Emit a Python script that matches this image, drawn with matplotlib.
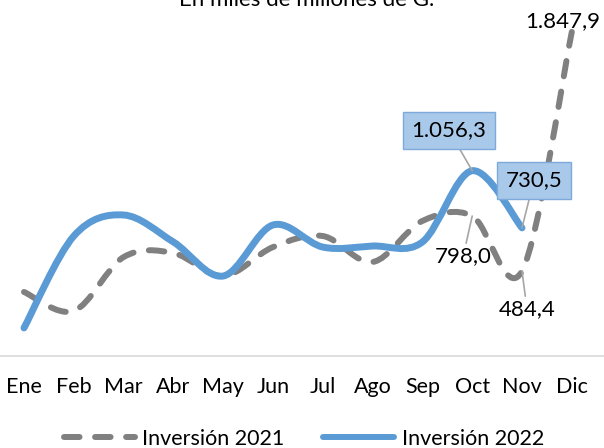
import numpy as np
import matplotlib
matplotlib.use('Agg')
from matplotlib import pyplot as plt
from matplotlib.path import Path
from matplotlib.patches import PathPatch
from matplotlib.lines import Line2D

######################
# Data

meses = ['Ene', 'Feb', 'Mar', 'Abr', 'May', 'Jun', 'Jul', 'Ago', 'Sep', 'Oct', 'Nov', 'Dic']
inv_2021 = [365, 257, 564, 587, 456, 621, 684, 536, 770, 798.0, 484.4, 1847.9]
inv_2022 = [160, 684, 804, 650, 456, 747, 621, 627, 650, 1056.3, 730.5]

gris = '#808080'
azul = '#5B9BD5'
plt.rcParams['font.family'] = ['Lato', 'DejaVu Sans']
######################


def curva_suave(xs, ys):
    '''
    Bezier path through the points, excel style smoothing
    '''
    pts = np.column_stack([xs, ys]).astype(float)
    n = len(pts)
    verts = [pts[0]]
    codes = [Path.MOVETO]
    for i in range(n - 1):
        p0 = pts[i - 1] if i > 0 else pts[i]
        p1 = pts[i]
        p2 = pts[i + 1]
        p3 = pts[i + 2] if i + 2 < n else pts[i + 1]
        verts += [p1 + (p2 - p0) / 6, p2 - (p3 - p1) / 6, p2]
        codes += [Path.CURVE4] * 3
    return Path(verts, codes)


W, H = 604, 448
fig = plt.figure(figsize=(W / 100, H / 100), dpi=100)
base = 356  # pixel row of the zero line
ax = fig.add_axes([0, (H - base) / H, 1, base / H])

paso = 49.8
x0 = 24
ax.set_xlim(-x0 / paso, (W - x0) / paso)
ax.set_ylim(0, base / 0.1754)

x21 = np.arange(len(inv_2021))
x22 = np.arange(len(inv_2022))

dash = (0, (2.6, 2.6))
p21 = PathPatch(curva_suave(x21, inv_2021), fill=False, edgecolor=gris, lw=4.3,
                linestyle=dash, capstyle='round', joinstyle='round', clip_on=False, zorder=2)
p22 = PathPatch(curva_suave(x22, inv_2022), fill=False, edgecolor=azul, lw=5.0,
                capstyle='round', joinstyle='round', clip_on=False, zorder=3)
ax.add_patch(p21)
ax.add_patch(p22)

for s in ['top', 'left', 'right']:
    ax.spines[s].set_visible(False)
ax.spines['bottom'].set_color('#d9d9d9')
ax.spines['bottom'].set_linewidth(1.2)
ax.set_yticks([])
ax.set_xticks(x21, meses)
ax.tick_params(axis='x', length=0, pad=15, labelsize=15.5)

# data labels
fs = 16
gl = dict(arrowstyle='-', color='#a6a6a6', lw=1.2, shrinkA=0, shrinkB=0)
ax.annotate('1.847,9', xy=(x21[11], inv_2021[11]), xytext=(10.82, 1910),
            ha='center', va='center', fontsize=fs)
ax.annotate('798,0', xy=(x21[9], inv_2021[9]), xytext=(8.82, 570),
            ha='center', va='center', fontsize=fs, arrowprops=gl)
ax.annotate('484,4', xy=(x21[10], inv_2021[10]), xytext=(10.1, 268),
            ha='center', va='center', fontsize=fs, arrowprops=gl)
caja = dict(boxstyle='square,pad=0.38', fc='#a9c9eb', ec='#7eaadb', lw=1.0)
ax.annotate('1.056,3', xy=(x22[9], inv_2022[9]), xytext=(8.53, 1288),
            ha='center', va='center', fontsize=fs, bbox=caja, zorder=5, arrowprops=gl)
ax.annotate('730,5', xy=(x22[10], inv_2022[10]), xytext=(10.24, 1003),
            ha='center', va='center', fontsize=fs, bbox=caja, zorder=5, arrowprops=gl)

fig.text(307 / W, (H - 6) / H, 'En miles de millones de G.', ha='center', va='baseline',
         fontsize=16)

handles = [Line2D([], [], color=gris, lw=4.3, linestyle=dash, dash_capstyle='round'),
           Line2D([], [], color=azul, lw=4.3, solid_capstyle='round')]
fig.legend(handles, ['Inversión 2021', 'Inversión 2022'], loc='center',
           bbox_to_anchor=(304 / W, 9 / H), ncol=2, frameon=False, fontsize=15.5,
           handlelength=3.3, handletextpad=0.35, columnspacing=1.8, borderpad=0)

fig.savefig('out.png', dpi=100)
